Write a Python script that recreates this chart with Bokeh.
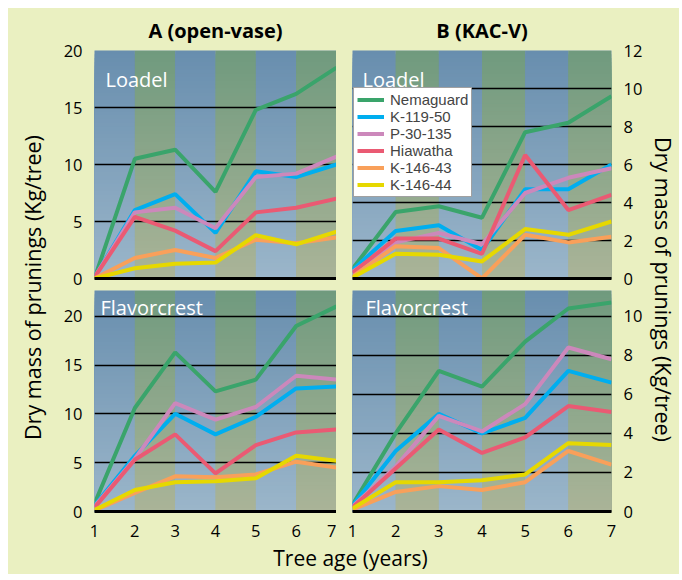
import numpy as np
from bokeh.plotting import figure
from bokeh.layouts import row, column, gridplot
from bokeh.models import Range1d, FixedTicker, Label, Legend, LegendItem
from bokeh.embed import file_html
from bokeh.resources import INLINE
from bokeh.core.properties import value

# ---------------- data ----------------
ages = [1, 2, 3, 4, 5, 6, 7]
rootstocks = ["Nemaguard", "K-119-50", "P-30-135", "Hiawatha", "K-146-43", "K-146-44"]

# A (open-vase) - Loadel
a_loadel_nemaguard = [0.0, 10.5, 11.3, 7.6, 14.8, 16.2, 18.5]
a_loadel_k11950 = [0.1, 6.0, 7.4, 4.0, 9.4, 8.9, 10.0]
a_loadel_p30135 = [0.1, 5.8, 6.2, 4.4, 8.9, 9.2, 10.7]
a_loadel_hiawatha = [0.1, 5.4, 4.2, 2.4, 5.8, 6.2, 7.0]
a_loadel_k14643 = [0.0, 1.8, 2.5, 1.8, 3.4, 3.1, 3.6]
a_loadel_k14644 = [0.0, 0.9, 1.3, 1.4, 3.8, 3.0, 4.1]

# B (KAC-V) - Loadel
b_loadel_nemaguard = [0.5, 3.5, 3.8, 3.2, 7.7, 8.2, 9.6]
b_loadel_k11950 = [0.45, 2.5, 2.8, 1.5, 4.7, 4.7, 6.0]
b_loadel_p30135 = [0.35, 1.9, 2.4, 1.8, 4.5, 5.3, 5.8]
b_loadel_hiawatha = [0.3, 2.1, 2.1, 1.3, 6.5, 3.6, 4.4]
b_loadel_k14643 = [0.1, 1.7, 1.6, 0.0, 2.3, 1.9, 2.2]
b_loadel_k14644 = [0.05, 1.3, 1.25, 0.9, 2.6, 2.3, 3.0]

# A (open-vase) - Flavorcrest
a_flavor_nemaguard = [0.8, 10.6, 16.3, 12.3, 13.5, 19.0, 21.0]
a_flavor_k11950 = [0.6, 5.7, 10.0, 7.9, 9.7, 12.6, 12.8]
a_flavor_p30135 = [0.5, 5.4, 11.1, 9.4, 10.7, 13.9, 13.5]
a_flavor_hiawatha = [0.4, 5.3, 7.9, 3.9, 6.8, 8.1, 8.4]
a_flavor_k14643 = [0.1, 1.9, 3.6, 3.5, 3.8, 5.1, 4.5]
a_flavor_k14644 = [0.15, 2.2, 3.0, 3.1, 3.4, 5.7, 5.2]

# B (KAC-V) - Flavorcrest
b_flavor_nemaguard = [0.35, 4.0, 7.2, 6.4, 8.7, 10.4, 10.7]
b_flavor_k11950 = [0.3, 3.1, 5.0, 4.0, 4.8, 7.2, 6.6]
b_flavor_p30135 = [0.25, 2.3, 4.9, 4.1, 5.5, 8.4, 7.8]
b_flavor_hiawatha = [0.2, 2.2, 4.2, 3.0, 3.8, 5.4, 5.1]
b_flavor_k14643 = [0.1, 1.0, 1.3, 1.1, 1.5, 3.1, 2.4]
b_flavor_k14644 = [0.15, 1.5, 1.5, 1.6, 1.9, 3.5, 3.4]

ticks_a = [0, 5, 10, 15, 20]
ticks_b_upper = [0, 2, 4, 6, 8, 10, 12]
ticks_b_lower = [0, 2, 4, 6, 8, 10]

panel_titles = ["A (open-vase)", "B (KAC-V)"]
cultivars = ["Loadel", "Flavorcrest"]
y_title = "Dry mass of prunings (Kg/tree)"
x_title = "Tree age (years)"

# ---------------- style ----------------
FONT = "Open Sans"
YELLOW = "#eaf0c1"
COLORS = ["#3aa46b", "#00aeef", "#cc88bb", "#ea5a73", "#f9a05a", "#e6d800"]
BLUE_TOP, BLUE_BOT = (104, 142, 174), (155, 182, 202)
GREEN_TOP, GREEN_BOT = (112, 154, 126), (170, 180, 152)


def hexcol(c):
    return "#%02x%02x%02x" % tuple(int(round(v)) for v in c)


def add_bands(p, ymax, n=60):
    left, right, bottom, top, fill = [], [], [], [], []
    for k in range(n, 0, -1):
        t = (k - 0.5) / n
        for i in range(len(ages) - 1):
            ct, cb = (BLUE_TOP, BLUE_BOT) if i % 2 == 0 else (GREEN_TOP, GREEN_BOT)
            col = [cb[j] + (ct[j] - cb[j]) * t for j in range(3)]
            left.append(ages[i]); right.append(ages[i + 1])
            bottom.append(0); top.append(ymax * k / n)
            fill.append(hexcol(col))
    r = p.quad(left=left, right=right, bottom=bottom, top=top,
               fill_color=fill, line_color=None)
    r.level = "image"


def make_panel(side, upper, ymax, ticks, series, cultivar, title=None):
    w = 288 if side == "A" else 309
    h = 282 if upper else 250
    p = figure(width=w, height=h,
               x_range=Range1d(1, 7), y_range=Range1d(0, ymax),
               y_axis_location="left" if side == "A" else "right",
               output_backend="svg", toolbar_location=None,
               min_border_left=46 if side == "A" else 16,
               min_border_right=0 if side == "A" else 31,
               min_border_top=41 if upper else 0,
               min_border_bottom=12 if upper else 29,
               title=title)
    p.background_fill_color = "#8fa8b8"
    p.border_fill_color = YELLOW
    p.outline_line_color = None
    if title:
        p.title.align = "center"
        p.title.text_font = FONT
        p.title.text_font_size = "20px"
        p.title.text_font_style = "bold"
        p.title.text_color = "black"
        p.title.standoff = 13

    add_bands(p, ymax)

    p.xgrid.visible = False
    p.ygrid.ticker = FixedTicker(ticks=ticks)
    p.ygrid.grid_line_color = "black"
    p.ygrid.grid_line_width = 1.5

    ya = p.yaxis[0]
    ya.ticker = FixedTicker(ticks=ticks)
    ya.axis_line_color = None
    ya.major_tick_line_color = None
    ya.minor_tick_line_color = None
    ya.major_label_text_font = FONT
    ya.major_label_text_font_size = "16.5px"
    ya.major_label_text_color = "black"
    ya.major_label_standoff = 6

    xa = p.xaxis[0]
    xa.axis_line_color = "black"
    xa.axis_line_width = 3
    xa.major_tick_line_color = None
    xa.minor_tick_line_color = None
    if upper:
        xa.ticker = FixedTicker(ticks=[])
        xa.major_label_standoff = 0
    else:
        xa.ticker = FixedTicker(ticks=ages)
        xa.major_label_text_font = FONT
        xa.major_label_text_font_size = "16.5px"
        xa.major_label_text_color = "black"
        xa.major_label_standoff = 7

    renderers = []
    for vals, c in zip(series, COLORS):
        r = p.line(ages, vals, line_color=c, line_width=4)
        renderers.append(r)

    if upper:
        lx = 11 if side == "A" else 10
        ly = 229 - 29.5
    else:
        lx = 6 if side == "A" else 13
        ly = 204
    p.add_layout(Label(x=lx, y=ly, x_units="screen", y_units="screen",
                       text=cultivar, text_color="white", text_font=FONT,
                       text_font_size="20px", text_baseline="alphabetic"))
    return p, renderers


uA, _ = make_panel("A", True, 20, ticks_a,
                   [a_loadel_nemaguard, a_loadel_k11950, a_loadel_p30135,
                    a_loadel_hiawatha, a_loadel_k14643, a_loadel_k14644],
                   cultivars[0], panel_titles[0])
uB, rb = make_panel("B", True, 12, ticks_b_upper,
                    [b_loadel_nemaguard, b_loadel_k11950, b_loadel_p30135,
                     b_loadel_hiawatha, b_loadel_k14643, b_loadel_k14644],
                    cultivars[0], panel_titles[1])
lA, _ = make_panel("A", False, 22.63, ticks_a,
                   [a_flavor_nemaguard, a_flavor_k11950, a_flavor_p30135,
                    a_flavor_hiawatha, a_flavor_k14643, a_flavor_k14644],
                   cultivars[1])
lB, _ = make_panel("B", False, 11.32, ticks_b_lower,
                   [b_flavor_nemaguard, b_flavor_k11950, b_flavor_p30135,
                    b_flavor_hiawatha, b_flavor_k14643, b_flavor_k14644],
                   cultivars[1])

legend = Legend(items=[LegendItem(label=n, renderers=[r]) for n, r in zip(rootstocks, rb)],
                location=(1, 81), margin=0, padding=3, spacing=0,
                label_text_font="Liberation Sans", label_text_font_size="15px",
                label_text_line_height=1.0,
                label_height=17, glyph_height=17, glyph_width=27, label_standoff=6,
                border_line_color="#444444", border_line_width=1.5,
                background_fill_color="white", background_fill_alpha=1.0)
uB.add_layout(legend)

grid = gridplot([[uA, uB], [lA, lB]], toolbar_location=None)
grid.spacing = 0
grid.styles = {"background-color": YELLOW}


def text_fig(w, h):
    f = figure(width=w, height=h, x_range=Range1d(0, w), y_range=Range1d(0, h),
               x_axis_type=None, y_axis_type=None, min_border=0,
               output_backend="svg", toolbar_location=None)
    f.background_fill_color = YELLOW
    f.border_fill_color = YELLOW
    f.outline_line_color = None
    f.grid.visible = False
    return f


left_lab = text_fig(40, 532)
left_lab.text(x=[24], y=[253], text=[y_title], angle=np.pi / 2,
              text_align="center", text_baseline="middle",
              text_font=value(FONT), text_font_size="21.5px", text_color="black")

right_lab = text_fig(34, 532)
right_lab.text(x=[18], y=[251], text=[y_title], angle=-np.pi / 2,
               text_align="center", text_baseline="middle",
               text_font=value(FONT), text_font_size="21.5px", text_color="black")

bottom_lab = text_fig(671, 34)
bottom_lab.text(x=[342], y=[17], text=[x_title],
                text_align="center", text_baseline="middle",
                text_font=value(FONT), text_font_size="21px", text_color="black")

layout = column(row(left_lab, grid, right_lab, spacing=0,
                    styles={"background-color": YELLOW}),
                bottom_lab, spacing=0,
                styles={"background-color": YELLOW},
                margin=(8, 0, 0, 8))

open("out.html", "w").write(file_html(layout, INLINE))
